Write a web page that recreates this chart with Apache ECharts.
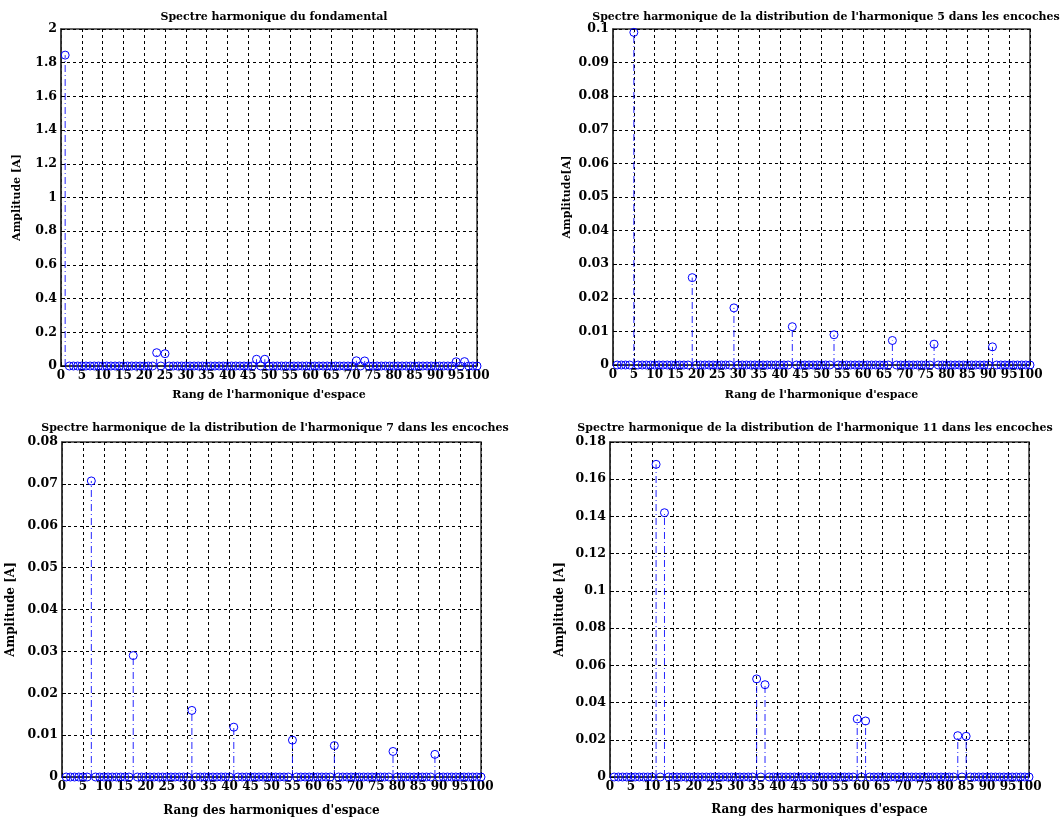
<!DOCTYPE html>
<html>
<head>
<meta charset="utf-8">
<script src="https://cdn.jsdelivr.net/npm/echarts@6/dist/echarts.min.js"></script>
<style>
html,body{margin:0;padding:0;background:#fff;}
#c{width:1064px;height:821px;}
</style>
</head>
<body>
<div id="c"></div>
<script>
// Harmonic ranks (x values)
const ranks = [
  1,2,3,4,5,6,7,8,9,10, 11,12,13,14,15,16,17,18,19,20,
  21,22,23,24,25,26,27,28,29,30, 31,32,33,34,35,36,37,38,39,40,
  41,42,43,44,45,46,47,48,49,50, 51,52,53,54,55,56,57,58,59,60,
  61,62,63,64,65,66,67,68,69,70, 71,72,73,74,75,76,77,78,79,80,
  81,82,83,84,85,86,87,88,89,90, 91,92,93,94,95,96,97,98,99,100
];

// Panel 1: spectre du fondamental
const ampFond = [
  1.845,0,0,0,0,0,0,0,0,0,  0,0,0,0,0,0,0,0,0,0,
  0,0,0.079,0,0.073,0,0,0,0,0,  0,0,0,0,0,0,0,0,0,0,
  0,0,0,0,0,0,0.040,0,0.040,0,  0,0,0,0,0,0,0,0,0,0,
  0,0,0,0,0,0,0,0,0,0,  0.031,0,0.030,0,0,0,0,0,0,0,
  0,0,0,0,0,0,0,0,0,0,  0,0,0,0,0.025,0,0.026,0,0,0
];

// Panel 2: harmonique 5
const ampH5 = [
  0,0,0,0,0.099,0,0,0,0,0,  0,0,0,0,0,0,0,0,0.026,0,
  0,0,0,0,0,0,0,0,0.017,0,  0,0,0,0,0,0,0,0,0,0,
  0,0,0.0114,0,0,0,0,0,0,0,  0,0,0.009,0,0,0,0,0,0,0,
  0,0,0,0,0,0,0.0073,0,0,0,  0,0,0,0,0,0,0.0062,0,0,0,
  0,0,0,0,0,0,0,0,0,0,  0.0054,0,0,0,0,0,0,0,0,0
];

// Panel 3: harmonique 7
const ampH7 = [
  0,0,0,0,0,0,0.0707,0,0,0,  0,0,0,0,0,0,0.029,0,0,0,
  0,0,0,0,0,0,0,0,0,0,  0.0159,0,0,0,0,0,0,0,0,0,
  0.0119,0,0,0,0,0,0,0,0,0,  0,0,0,0,0.0088,0,0,0,0,0,
  0,0,0,0,0.0075,0,0,0,0,0,  0,0,0,0,0,0,0,0,0.0061,0,
  0,0,0,0,0,0,0,0,0.0054,0,  0,0,0,0,0,0,0,0,0,0
];

// Panel 4: harmonique 11
const ampH11 = [
  0,0,0,0,0,0,0,0,0,0,  0.168,0,0.142,0,0,0,0,0,0,0,
  0,0,0,0,0,0,0,0,0,0,  0,0,0,0,0.0527,0,0.0496,0,0,0,
  0,0,0,0,0,0,0,0,0,0,  0,0,0,0,0,0,0,0,0.0312,0,
  0.0301,0,0,0,0,0,0,0,0,0,  0,0,0,0,0,0,0,0,0,0,
  0,0,0.0222,0,0.0219,0,0,0,0,0,  0,0,0,0,0,0,0,0,0,0
];

const titles = [
  "Spectre harmonique du fondamental",
  "Spectre harmonique de la distribution de l'harmonique 5 dans les encoches",
  "Spectre harmonique de la distribution de l'harmonique 7 dans les encoches",
  "Spectre harmonique de la distribution de l'harmonique 11 dans les encoches"
];
const xNames = [
  "Rang de l'harmonique d'espace",
  "Rang de l'harmonique d'espace",
  "Rang des harmoniques d'espace",
  "Rang des harmoniques d'espace"
];
const yNames = ["Amplitude [A]", "Amplitude[A]", "Amplitude [A]", "Amplitude [A]"];
const yMax = [2, 0.1, 0.08, 0.18];
const yStep = [0.2, 0.01, 0.01, 0.02];
const amps = [ampFond, ampH5, ampH7, ampH11];

// layout
const grids = [
  {left: 61, top: 29, width: 416, height: 337},
  {left: 613, top: 29, width: 417, height: 336},
  {left: 62, top: 442, width: 419, height: 335},
  {left: 610, top: 442, width: 419, height: 335}
];
const titlePos = [
  {x: 269, y: 7}, {x: 821, y: 7}, {x: 270, y: 418}, {x: 810, y: 418}
];
const yNameGap = [38, 40, 45, 44];
const xNameGap = [24, 25, 28, 27];
const xNameSize = [11, 11, 12, 12];
const yNameSize = [11, 11, 12, 12];

const FONT = "DejaVu Serif";
const BLUE = "#0000ff";

const option = {
  backgroundColor: "#fff",
  animation: false,
  title: titles.map((t, i) => ({
    text: t,
    left: titlePos[i].x,
    top: titlePos[i].y,
    textAlign: "center",
    textStyle: {fontFamily: FONT, fontWeight: "bold", fontSize: 11, color: "#000"}
  })),
  grid: grids.map(g => Object.assign({show: true, borderColor: "#333", borderWidth: 1.5, backgroundColor: "#fff"}, g)),
  xAxis: grids.map((g, i) => ({
    type: "value", gridIndex: i, min: 0, max: 100, interval: 5,
    name: xNames[i], nameLocation: "middle", nameGap: xNameGap[i],
    nameTextStyle: {fontFamily: FONT, fontWeight: "bold", fontSize: xNameSize[i], color: "#000"},
    axisLine: {show: true, onZero: false, lineStyle: {color: "#333", width: 1.5}},
    axisTick: {show: true, inside: true, length: 4, lineStyle: {color: "#000"}},
    axisLabel: {fontFamily: FONT, fontWeight: "bold", fontSize: 12, color: "#000", margin: 4,
                showMinLabel: true, showMaxLabel: true},
    splitLine: {show: true, lineStyle: {color: "#000", type: [3, 3], width: 1}}
  })),
  yAxis: grids.map((g, i) => ({
    type: "value", gridIndex: i, min: 0, max: yMax[i], interval: yStep[i],
    name: yNames[i], nameLocation: "middle", nameGap: yNameGap[i],
    nameTextStyle: {fontFamily: FONT, fontWeight: "bold", fontSize: yNameSize[i], color: "#000"},
    axisLine: {show: true, lineStyle: {color: "#333", width: 1.5}},
    axisTick: {show: true, inside: true, length: 4, lineStyle: {color: "#000"}},
    axisLabel: {fontFamily: FONT, fontWeight: "bold", fontSize: 12.5, color: "#000", margin: 4,
                showMinLabel: true, showMaxLabel: true},
    splitLine: {show: true, lineStyle: {color: "#000", type: [3, 3], width: 1}}
  })),
  series: []
};

amps.forEach((a, i) => {
  const data = ranks.map((r, k) => [r, a[k]]);
  option.series.push({
    type: "custom",
    xAxisIndex: i, yAxisIndex: i,
    data: data,
    silent: true,
    renderItem: function (params, api) {
      const x = api.value(0), y = api.value(1);
      const p0 = api.coord([x, 0]);
      const p1 = api.coord([x, y]);
      return {
        type: "line",
        shape: {x1: p0[0], y1: p0[1], x2: p1[0], y2: p1[1]},
        style: {stroke: BLUE, lineWidth: 1, lineDash: [7, 3, 1, 3], opacity: 0.85}
      };
    }
  });
  option.series.push({
    type: "scatter",
    xAxisIndex: i, yAxisIndex: i,
    data: data,
    symbol: "circle",
    symbolSize: 8,
    clip: false,
    silent: true,
    itemStyle: {color: "rgba(0,0,0,0)", borderColor: BLUE, borderWidth: 1, opacity: 1}
  });
});

const chart = echarts.init(document.getElementById("c"), null, {renderer: "canvas"});
chart.setOption(option);
</script>
</body>
</html>
